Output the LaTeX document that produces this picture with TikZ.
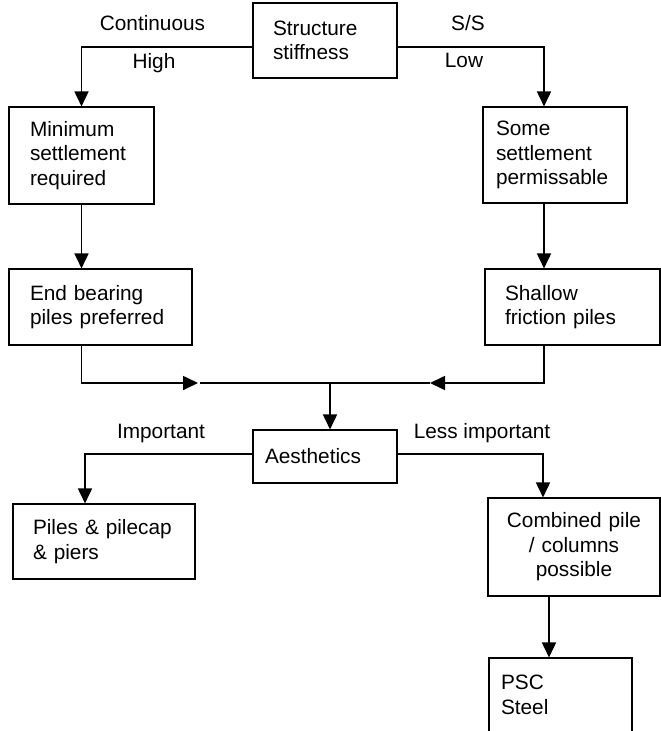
\documentclass[tikz,border=0pt]{standalone}
\usepackage{fontspec}
\setmainfont{Liberation Sans}
\usetikzlibrary{arrows.meta}
\begin{document}
\begin{tikzpicture}[x=1pt,y=-1pt,
  font=\fontsize{20.8}{24.5}\selectfont,
  box/.style={draw, line width=1.1pt, rectangle, inner ysep=0pt, align=left},
  link/.style={line width=1.7pt},
  arr/.style={link, -{Triangle[length=15pt,width=14pt]}},
  tag/.style={inner sep=0pt}]
\useasboundingbox (0,0) rectangle (661,731);
\clip (0,0) rectangle (661,731);
\fill[white] (0,0) rectangle (661,731);

% decision boxes
\node[box, minimum height=75pt, inner xsep=20pt, text width=104pt] (stiff) at (325,40.5) {Structure\\stiffness};
\node[box, minimum height=97pt, inner xsep=21pt, text width=103pt] (minset) at (81.5,155.5) {Minimum\\settlement\\required};
\node[box, minimum height=96pt, inner xsep=13pt, text width=118pt] (someset) at (555,155) {Some\\settlement\\permissable};
\node[box, minimum height=76pt, inner xsep=21pt, text width=141pt] (endbear) at (100.5,307) {End bearing\\piles preferred};
\node[box, minimum height=76pt, inner xsep=20pt, text width=135pt] (shallow) at (572.5,307) {Shallow\\friction piles};
\node[box, minimum height=53pt, inner xsep=12pt, text width=120pt] (aesth) at (325,456.5) {Aesthetics};
\node[box, minimum height=75pt, inner xsep=20pt, text width=142pt] (piles) at (104,541.5) {Piles \& pilecap\\\& piers};
\node[box, minimum height=98pt, inner xsep=8pt, text width=156pt, align=center] (combined) at (574,547) {Combined pile\\/ columns\\possible};
\node[box, minimum height=74pt, inner xsep=12pt, text width=119pt] (psc) at (560.5,695) {PSC\\Steel};

% branch labels
\node[tag] (lcont) at (152.5,23) {Continuous};
\node[tag] (lhigh) at (154,63) {High};
\node[tag] (lss) at (468,23) {S/S};
\node[tag] (llow) at (464,60) {Low};
\node[tag] (limp) at (161,433) {Important};
\node[tag] (lless) at (482,433) {Less important};

% merge line
\coordinate (jl) at (198,383);
\coordinate (jr) at (430,383);
\coordinate (jm) at (330,383);

% connectors
\draw[arr] ([yshift=-6.5pt]stiff.west) -| (minset.north);
\draw[arr] ([yshift=-6.5pt]stiff.east) -| ([xshift=-11pt]someset.north);
\draw[arr] (minset.south) -- (minset.south |- endbear.north);
\draw[arr] ([xshift=-11pt]someset.south) -- ([xshift=-11pt]someset.south |- shallow.north);
\draw[arr] (minset.south |- endbear.south) |- (jl);
\draw[arr] ([xshift=-11pt]someset.south |- shallow.south) |- (jr);
\draw[link] ([xshift=2pt]jl) -- (jr);
\draw[arr] (jm) -- (jm |- aesth.north);
\draw[arr] ([yshift=2.5pt]aesth.west) -| ([xshift=-19pt]piles.north);
\draw[arr] ([yshift=2.5pt]aesth.east) -| ([xshift=-31pt]combined.north);
\draw[arr] ([xshift=-25pt]combined.south) -- ([xshift=-25pt]combined.south |- psc.north);
\end{tikzpicture}
\end{document}
